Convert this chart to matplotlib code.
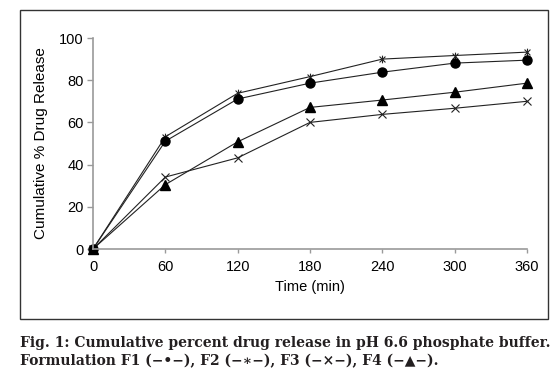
import numpy as np
import matplotlib
matplotlib.use("Agg")
import matplotlib.pyplot as plt
from matplotlib.path import Path
from matplotlib.patches import Rectangle

# 数据 ---------------------------------
time_min = [0, 60, 120, 180, 240, 300, 360]
f1 = [0, 51.1, 71.1, 78.6, 83.8, 88.1, 89.5]
f2 = [0, 53.2, 73.8, 81.7, 90.0, 91.7, 93.3]
f3 = [0, 34.1, 43.2, 60.0, 63.8, 66.7, 70.0]
f4 = [0, 30.5, 50.8, 67.1, 70.6, 74.3, 78.6]
yticks = [0, 20, 40, 60, 80, 100]

# x + 竖线 的星号标记
star = Path([(-1, -1), (1, 1), (-1, 1), (1, -1), (0, -1.3), (0, 1.3)],
            [Path.MOVETO, Path.LINETO, Path.MOVETO, Path.LINETO, Path.MOVETO, Path.LINETO])

plt.rcParams['font.family'] = ['Liberation Sans', 'DejaVu Sans']

fig = plt.figure(figsize=(5.57, 3.80), dpi=100)
ax = fig.add_axes([93/557, 1-249/380, (527-93)/557, (249-38)/380])

lc = '#222222'
ax.plot(time_min, f3, color=lc, lw=0.8, marker='x', ms=6, mew=0.8, clip_on=False)
ax.plot(time_min, f4, color=lc, lw=0.8, marker='^', ms=6.5, mfc='black', mec='black', clip_on=False)
ax.plot(time_min, f2, color=lc, lw=0.8, marker=star, ms=5.5, mew=0.8, mfc='none', clip_on=False)
ax.plot(time_min, f1, color=lc, lw=0.8, marker='o', ms=6.5, mfc='black', mec='black', clip_on=False)

ax.set_xlim(0, 360)
ax.set_ylim(0, 100)
ax.set_xticks(time_min)
ax.set_yticks(yticks)
for s in ['top', 'right']:
    ax.spines[s].set_visible(False)
for s in ['left', 'bottom']:
    ax.spines[s].set_color('#9a9a9a')
    ax.spines[s].set_linewidth(1.2)
ax.tick_params(axis='y', direction='out', length=4.5, width=1, color='#9a9a9a', labelsize=10.5, pad=2)
ax.tick_params(axis='x', direction='out', length=3, width=1, color='#9a9a9a', labelsize=10.5, pad=5)
ax.set_xlabel('Time (min)', fontsize=10.5, labelpad=4)
ax.set_ylabel('Cumulative % Drug Release', fontsize=11, labelpad=8)

# 外框
fig.patches.append(Rectangle((20/557, 1-319/380), 528/557, 309/380, transform=fig.transFigure,
                             fill=False, edgecolor='#333333', lw=1.0))

# 图注
cap = '#231f20'
fig.text(20/557, 1-347/380, 'Fig. 1: Cumulative percent drug release in pH 6.6 phosphate buffer.',
         family=['DejaVu Serif', 'DejaVu Sans'], weight='bold', fontsize=10, color=cap, va='baseline')
fig.text(20/557, 1-365/380, 'Formulation F1 (\u2212\u2022\u2212), F2 (\u2212\u2217\u2212), F3 (\u2212\u00d7\u2212), F4 (\u2212\u25b2\u2212).',
         family=['DejaVu Serif', 'DejaVu Sans'], weight='bold', fontsize=10, color=cap, va='baseline')

fig.savefig('out.png', dpi=100)
